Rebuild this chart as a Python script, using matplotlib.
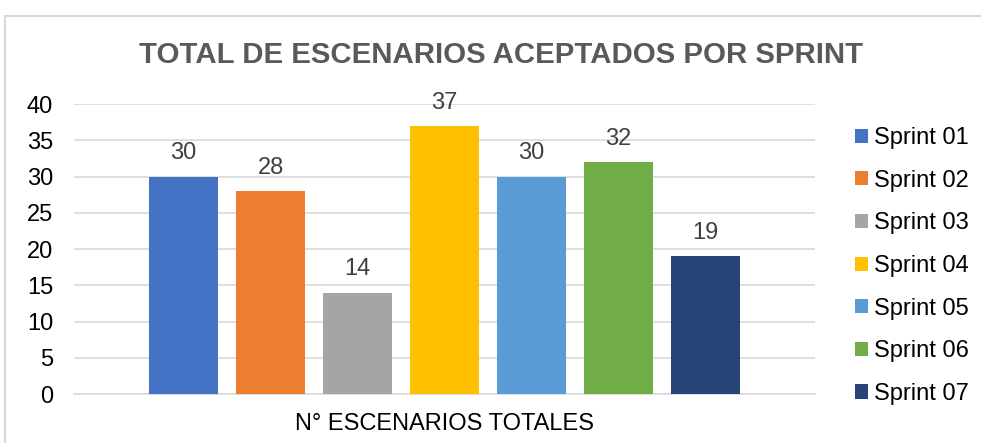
import matplotlib.pyplot as plt
from matplotlib.patches import Rectangle

plt.rcParams['font.family'] = ['Liberation Sans', 'DejaVu Sans']

sprints = ["Sprint 01", "Sprint 02", "Sprint 03", "Sprint 04",
           "Sprint 05", "Sprint 06", "Sprint 07"]
escenarios = [30, 28, 14, 37, 30, 32, 19]
colores = ["#4472C4", "#ED7D31", "#A5A5A5", "#FFC000",
           "#5B9BD5", "#70AD47", "#264478"]
yticks = [0, 5, 10, 15, 20, 25, 30, 35, 40]

GRID = "#D9D9D9"
FS = 17

fig = plt.figure(figsize=(9.81, 4.43), dpi=100)
ax = fig.add_axes([0.0754, 0.1106, 0.7554, 0.6546])

# outer chart frame (only left/top edges fall inside the image)
fig.patches.append(Rectangle((5 / 981, -0.1), 1.2, (443 - 16) / 443 + 0.1,
                             transform=fig.transFigure, fill=False,
                             edgecolor=GRID, linewidth=1.5))

xs = list(range(len(sprints)))
bars = ax.bar(xs, escenarios, width=0.79, color=colores, label=sprints, zorder=3)
for x, v in zip(xs, escenarios):
    ax.text(x, v + 3.2, str(v), ha="center", va="center",
            fontsize=FS, color="#404040")

ax.set_xlim(-1.26, 7.26)
ax.set_ylim(0, 40)
ax.set_yticks(yticks)
ax.set_xticks([])
ax.tick_params(axis="y", length=0, labelsize=FS, pad=15, labelcolor="#000000")
ax.grid(axis="y", color=GRID, linewidth=1.2, zorder=0)
for side in ["top", "right", "left"]:
    ax.spines[side].set_visible(False)
ax.spines["bottom"].set_color(GRID)
ax.spines["bottom"].set_linewidth(1.2)

ax.set_xlabel("N° ESCENARIOS TOTALES", fontsize=FS, color="#000000", labelpad=14)

fig.text(501 / 981, (443 - 55) / 443, "TOTAL DE ESCENARIOS ACEPTADOS POR SPRINT",
         ha="center", va="center", fontsize=21.2, fontweight="bold",
         color="#595959")

fig.legend(handles=list(bars), labels=sprints,
           loc="upper left", bbox_to_anchor=(855 / 981, (443 - 127) / 443),
           frameon=False, fontsize=FS, handlelength=0.55, handleheight=0.55,
           handletextpad=0.25, labelspacing=0.875, borderpad=0, borderaxespad=0)

plt.savefig("out.png", dpi=100)
